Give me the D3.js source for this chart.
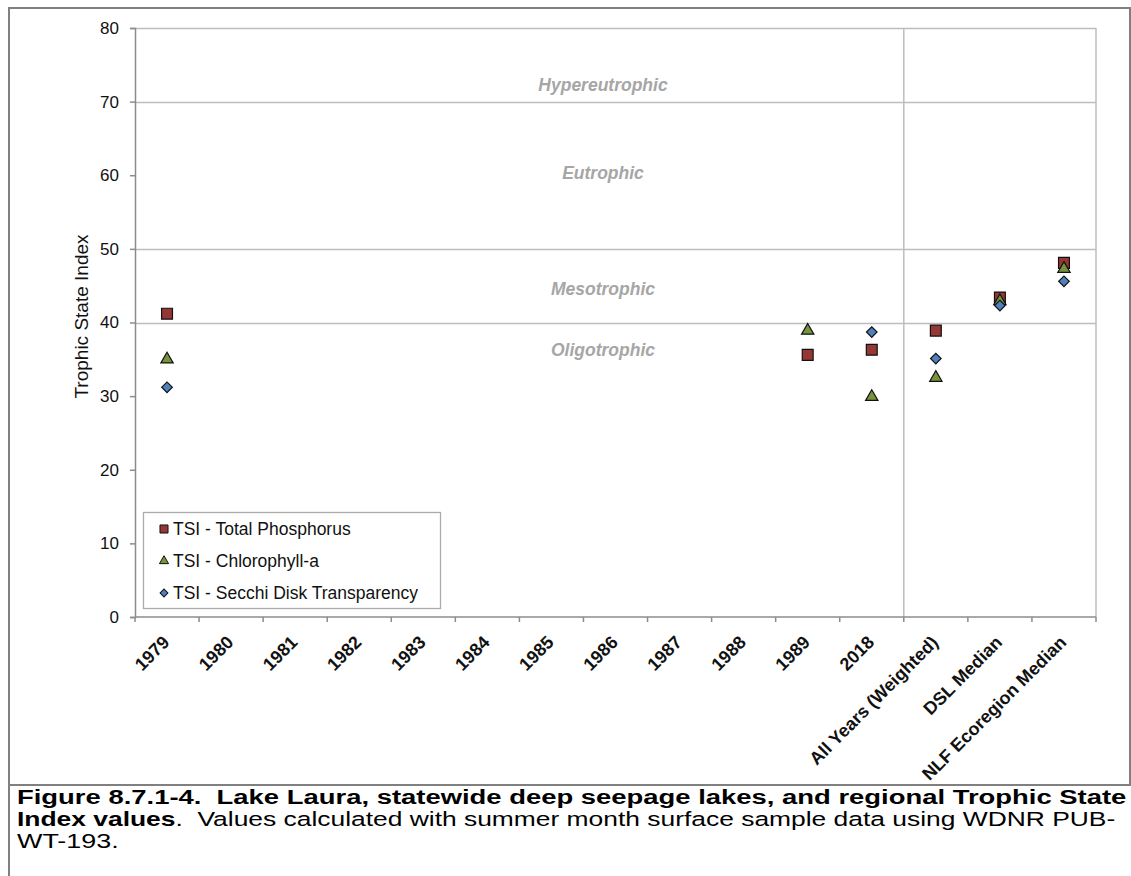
<!DOCTYPE html>
<html>
<head>
<meta charset="utf-8">
<script src="https://cdn.jsdelivr.net/npm/d3@7/dist/d3.min.js"></script>
<style>
  html, body { margin: 0; padding: 0; background: #fff; }
  svg { display: block; }
  text { font-family: Arial, "Liberation Sans", sans-serif; }
</style>
</head>
<body>
<svg id="chart" width="1131" height="876"></svg>
<script>
const categories = ["1979","1980","1981","1982","1983","1984","1985","1986","1987","1988","1989","2018",
  "All Years (Weighted)","DSL Median","NLF Ecoregion Median"];
const tsiPhosphorus  = [41.2,null,null,null,null,null,null,null,null,null,35.6,36.3,38.9,43.4,48.1];
const tsiChlorophyll = [35.0,null,null,null,null,null,null,null,null,null,38.9,29.9,32.5,42.9,47.3];
const tsiSecchi      = [31.2,null,null,null,null,null,null,null,null,null,null,38.7,35.1,42.3,45.6];
const seriesNames = ["TSI - Total Phosphorus","TSI - Chlorophyll-a","TSI - Secchi Disk Transparency"];
const yTicks = [0,10,20,30,40,50,60,70,80];
const trophicBoundaries = [40,50,70,80];
const trophicLabels = ["Hypereutrophic","Eutrophic","Mesotrophic","Oligotrophic"];
const trophicLabelValues = [72.3,60.3,44.5,36.3];
const yAxisTitle = "Trophic State Index";
const captionBold1 = "Figure 8.7.1-4.  Lake Laura, statewide deep seepage lakes, and regional Trophic State";
const captionBold2 = "Index values";
const captionRest2 = ".  Values calculated with summer month surface sample data using WDNR PUB-";
const captionLine3 = "WT-193.";

const svg = d3.select("#chart");
const L = 135, R = 1096, T = 28, B = 617;
const x = d3.scaleBand().domain(categories).range([L, R]).padding(0);
const y = d3.scaleLinear().domain([0, 80]).range([B, T]);
const bw = x.bandwidth();

// outer frame
const frameC = "#808080";
svg.append("line").attr("x1", 9).attr("x2", 9).attr("y1", 7).attr("y2", 876).attr("stroke", frameC).attr("stroke-width", 2);
svg.append("line").attr("x1", 8).attr("x2", 1131).attr("y1", 8).attr("y2", 8).attr("stroke", frameC).attr("stroke-width", 2);
svg.append("line").attr("x1", 8).attr("x2", 1131).attr("y1", 785).attr("y2", 785).attr("stroke", frameC).attr("stroke-width", 2);
svg.append("line").attr("x1", 1130).attr("x2", 1130).attr("y1", 7).attr("y2", 785).attr("stroke", frameC).attr("stroke-width", 2);

const gridC = "#bdbdbd";
svg.append("g").selectAll("line").data(trophicBoundaries).join("line")
  .attr("x1", L).attr("x2", R)
  .attr("y1", d => Math.round(y(d)) + 0.5).attr("y2", d => Math.round(y(d)) + 0.5)
  .attr("stroke", gridC).attr("stroke-width", 1.5);
svg.append("line").attr("x1", R).attr("x2", R).attr("y1", y(80)).attr("y2", B).attr("stroke", gridC).attr("stroke-width", 1.5);
const sepX = x(categories[12]);
svg.append("line").attr("x1", sepX).attr("x2", sepX).attr("y1", y(80)).attr("y2", B).attr("stroke", gridC).attr("stroke-width", 1.5);

// trophic labels
svg.append("g").selectAll("text").data(trophicLabels).join("text")
  .attr("x", 603).attr("y", (d, i) => y(trophicLabelValues[i]))
  .attr("dy", "0.35em")
  .attr("text-anchor", "middle")
  .attr("font-size", 17.5).attr("font-weight", "bold").attr("font-style", "italic")
  .attr("fill", "#a6a6a6")
  .text(d => d);

// y axis
const axC = "#8c8c8c";
const yAxis = svg.append("g").attr("transform", `translate(${L},0)`)
  .call(d3.axisLeft(y).tickValues(yTicks).tickSize(5).tickPadding(11).tickFormat(d3.format("d")));
yAxis.select(".domain").attr("stroke", axC).attr("stroke-width", 1.5);
yAxis.selectAll(".tick line").attr("stroke", axC).attr("stroke-width", 1.5);
yAxis.selectAll(".tick text").attr("font-size", 17).attr("fill", "#111").attr("font-family", "Arial, 'Liberation Sans', sans-serif");

// x axis
svg.append("line").attr("x1", L).attr("x2", R).attr("y1", B).attr("y2", B).attr("stroke", axC).attr("stroke-width", 1.5);
const tickPos = d3.range(categories.length + 1).map(i => L + i * bw);
svg.append("g").selectAll("line").data(tickPos).join("line")
  .attr("x1", d => d).attr("x2", d => d).attr("y1", B).attr("y2", B + 5)
  .attr("stroke", axC).attr("stroke-width", 1.5);
svg.append("g").selectAll("text").data(categories).join("text")
  .attr("transform", d => `translate(${x(d) + bw / 2 - 1},${B + 22}) rotate(-45)`)
  .attr("text-anchor", "end").attr("dy", "0.35em")
  .attr("font-size", 18).attr("font-weight", "bold").attr("fill", "#111")
  .text(d => d);

// y title
svg.append("text")
  .attr("transform", `translate(88,${(T + B) / 2 - 6}) rotate(-90)`)
  .attr("text-anchor", "middle")
  .attr("font-size", 19).attr("fill", "#111")
  .text(yAxisTitle);

// markers
const colors = ["#953735", "#77933c", "#4f81bd"];
const shapes = [d3.symbolSquare, d3.symbolTriangle, d3.symbolSquare];
const rotations = [0, 0, 45];
const sizes = [118, 66, 56];
const allSeries = [tsiPhosphorus, tsiChlorophyll, tsiSecchi];
allSeries.forEach((vals, si) => {
  const pts = vals.map((v, i) => ({ c: categories[i], v })).filter(p => p.v != null);
  svg.append("g").selectAll("path").data(pts).join("path")
    .attr("transform", p => `translate(${x(p.c) + bw / 2},${y(p.v)}) rotate(${rotations[si]})`)
    .attr("d", d3.symbol().type(shapes[si]).size(sizes[si]))
    .attr("fill", colors[si]).attr("stroke", "#111").attr("stroke-width", 1.2);
});

// legend
const lg = svg.append("g");
lg.append("rect").attr("x", 143.5).attr("y", 512.5).attr("width", 297).attr("height", 96)
  .attr("fill", "#fff").attr("stroke", "#ababab").attr("stroke-width", 1.3);
const rowY = [529, 561, 593];
seriesNames.forEach((n, i) => {
  lg.append("path")
    .attr("transform", `translate(164,${rowY[i]}) rotate(${rotations[i]})`)
    .attr("d", d3.symbol().type(shapes[i]).size(sizes[i] * 0.55))
    .attr("fill", colors[i]).attr("stroke", "#111").attr("stroke-width", 1);
  lg.append("text").attr("x", 173).attr("y", rowY[i]).attr("dy", "0.35em")
    .attr("font-size", 17.5).attr("fill", "#111").text(n);
});

// caption (text is horizontally stretched in the reference)
const capSize = 20.5;
function fitLine(sel, yPos, target) {
  const w = sel.node().getComputedTextLength();
  const k = target / w;
  sel.attr("transform", `translate(17,${yPos}) scale(${k},1)`);
  return k;
}
const c1 = svg.append("text").attr("x", 0).attr("y", 0)
  .attr("font-size", capSize).attr("font-weight", "bold").attr("fill", "#000")
  .style("white-space", "pre")
  .text(captionBold1);
const k1 = fitLine(c1, 804, 1127 - 17);
const c2 = svg.append("text").attr("x", 0).attr("y", 0)
  .attr("font-size", capSize).attr("fill", "#000").style("white-space", "pre");
c2.append("tspan").attr("font-weight", "bold").text(captionBold2);
c2.append("tspan").text(captionRest2);
const k2 = fitLine(c2, 826, 1116 - 17);
svg.append("text").attr("x", 0).attr("y", 0)
  .attr("transform", `translate(17,848) scale(${(k1 + k2) / 2},1)`)
  .attr("font-size", capSize).attr("fill", "#000").text(captionLine3);
</script>
</body>
</html>
